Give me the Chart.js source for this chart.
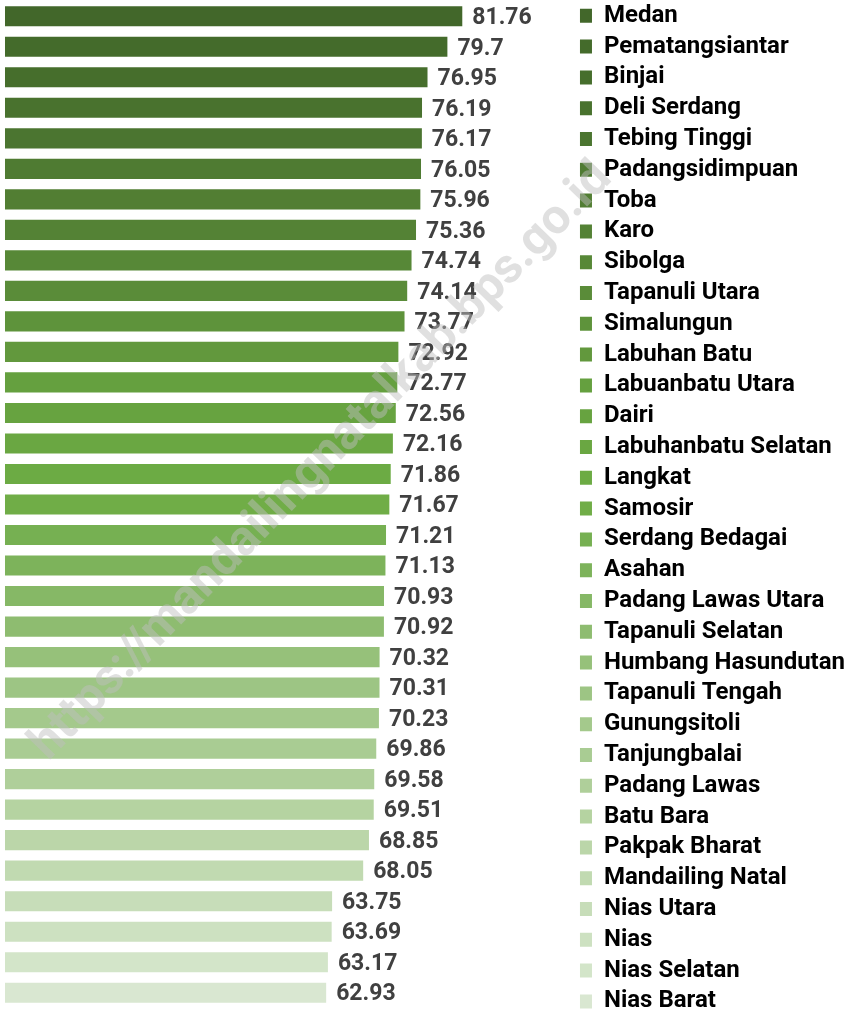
<!DOCTYPE html>
<html>
<head>
<meta charset="utf-8">
<script src="https://cdn.jsdelivr.net/npm/chart.js@4.4.1/dist/chart.umd.min.js"></script>
<style>
  html, body { margin: 0; padding: 0; background: #fff; overflow: hidden; }
  #wrap { position: absolute; left: 0; top: -3px; width: 855px; height: 1030px; }
</style>
</head>
<body>
<div id="wrap"><canvas id="ipmChart"></canvas></div>
<script>
const categories = [
  'Medan', 'Pematangsiantar', 'Binjai', 'Deli Serdang', 'Tebing Tinggi',
  'Padangsidimpuan', 'Toba', 'Karo', 'Sibolga', 'Tapanuli Utara',
  'Simalungun', 'Labuhan Batu', 'Labuanbatu Utara', 'Dairi', 'Labuhanbatu Selatan',
  'Langkat', 'Samosir', 'Serdang Bedagai', 'Asahan', 'Padang Lawas Utara',
  'Tapanuli Selatan', 'Humbang Hasundutan', 'Tapanuli Tengah', 'Gunungsitoli', 'Tanjungbalai',
  'Padang Lawas', 'Batu Bara', 'Pakpak Bharat', 'Mandailing Natal', 'Nias Utara',
  'Nias', 'Nias Selatan', 'Nias Barat'
];
const values = [
  81.76, 79.7, 76.95, 76.19, 76.17,
  76.05, 75.96, 75.36, 74.74, 74.14,
  73.77, 72.92, 72.77, 72.56, 72.16,
  71.86, 71.67, 71.21, 71.13, 70.93,
  70.92, 70.32, 70.31, 70.23, 69.86,
  69.58, 69.51, 68.85, 68.05, 63.75,
  63.69, 63.17, 62.93
];
const barColors = [
  '#42672a', '#446b2b', '#466e2c', '#49722e', '#4b7530',
  '#4f7b32', '#527e33', '#548235', '#578837', '#5a8c39',
  '#5e933b', '#62983d', '#65a03f', '#67a340', '#6aa742',
  '#6cab44', '#70ad47', '#76b052', '#7db35b', '#86b866',
  '#8ebc70', '#96c17a', '#9dc584', '#a4c98c', '#a9cc93',
  '#afcf9a', '#b5d3a1', '#bbd6a9', '#c1dab1', '#c7ddb9',
  '#cde1c1', '#d3e5c9', '#d9e7d1'
];
const watermark = 'https://mandailingnatalkab.bps.go.id';

// value text at the end of each bar
const valueLabels = {
  id: 'valueLabels',
  afterDatasetsDraw(chart) {
    const ctx = chart.ctx;
    const meta = chart.getDatasetMeta(0);
    ctx.save();
    ctx.font = 'bold 23px Roboto';
    ctx.fillStyle = '#404040';
    ctx.textAlign = 'left';
    ctx.textBaseline = 'middle';
    meta.data.forEach((bar, i) => {
      ctx.fillText(String(values[i]), bar.x + 10, bar.y + 2);
    });
    ctx.restore();
  }
};

const watermarkText = {
  id: 'watermarkText',
  afterDraw(chart) {
    const ctx = chart.ctx;
    ctx.save();
    ctx.translate(322, 465);
    ctx.rotate(-0.8);
    ctx.font = 'bold 49px Roboto';
    ctx.fillStyle = 'rgba(190, 190, 190, 0.48)';
    ctx.textAlign = 'center';
    ctx.textBaseline = 'middle';
    ctx.fillText(watermark, 0, 0);
    ctx.restore();
  }
};

const ctx = document.getElementById('ipmChart').getContext('2d');
const ipmChart = new Chart(ctx, {
  type: 'bar',
  data: {
    labels: categories,
    datasets: [{
      label: 'IPM',
      data: values,
      backgroundColor: barColors,
      borderWidth: 0,
      categoryPercentage: 1,
      barPercentage: 0.66
    }]
  },
  options: {
    indexAxis: 'y',
    responsive: true,
    maintainAspectRatio: false,
    animation: false,
    layout: { padding: { left: 5, right: 0, top: 0, bottom: 0 } },
    scales: {
      x: {
        position: 'top',
        min: 18.5,
        max: 97.1,
        grid: { display: false },
        border: { display: false },
        ticks: { display: false },
        afterFit(scale) { scale.height = 4; }
      },
      xBottom: {
        type: 'linear',
        position: 'bottom',
        display: true,
        grid: { display: false },
        border: { display: false },
        ticks: { display: false },
        afterFit(scale) { scale.height = 19; }
      },
      y: {
        display: false
      }
    },
    plugins: {
      tooltip: { enabled: false },
      legend: {
        position: 'right',
        align: 'start',
        onClick: null,
        labels: {
          boxWidth: 12,
          boxHeight: 14,
          padding: 6.8,
          color: '#595959',
          font: { family: 'Roboto', size: 24, weight: 'bold' },
          generateLabels() {
            return categories.map((name, i) => ({
              text: name,
              fillStyle: barColors[i],
              strokeStyle: barColors[i],
              lineWidth: 0,
              hidden: false,
              index: i,
              datasetIndex: 0
            }));
          }
        }
      }
    }
  },
  plugins: [valueLabels, watermarkText]
});
</script>
</body>
</html>
